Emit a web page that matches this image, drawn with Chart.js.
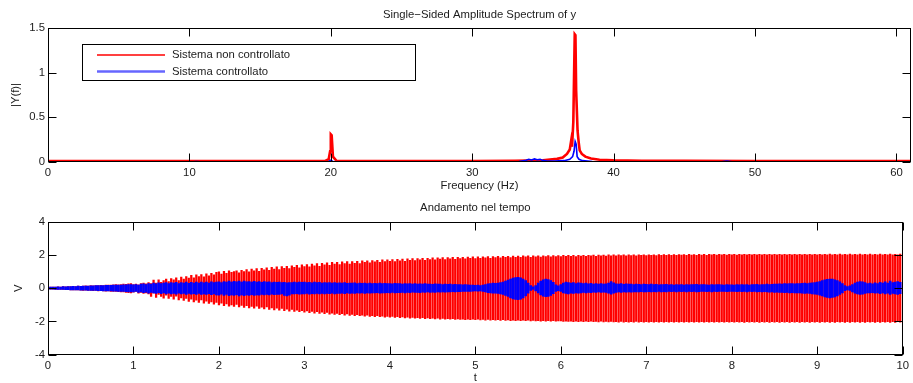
<!DOCTYPE html>
<html>
<head>
<meta charset="utf-8">
<script src="https://cdn.jsdelivr.net/npm/chart.js@4.4.1/dist/chart.umd.min.js"></script>
<style>
  html, body { margin: 0; padding: 0; background: #ffffff; }
  #wrap { position: relative; width: 913px; height: 383px; }
  #wrap canvas { position: absolute; left: 0; top: 0; }
</style>
</head>
<body>
<div id="wrap">
  <canvas id="spec" width="913" height="383"></canvas>
  <canvas id="time" width="913" height="383"></canvas>
</div>
<script>
// ---------- Spectrum |Y(f)| ----------
const specXTicks = [0, 10, 20, 30, 40, 50, 60];
const specYTicks = [0, 0.5, 1, 1.5];
const specFreqMax = 61.03;

// uncontrolled system
const redFreq = [0, 5, 10, 15, 19.6, 19.85, 19.95, 20.0, 20.06, 20.15, 20.4, 25, 30, 33, 35, 36, 36.4, 36.7, 36.9, 37.0, 37.06, 37.15, 37.25, 37.3, 37.35, 37.45, 37.53, 37.6, 37.75, 38.0, 38.4, 39.0, 40, 42, 45, 50, 55, 61.03];
const redAmp  = [0.012, 0.012, 0.012, 0.012, 0.013, 0.03, 0.12, 0.31, 0.3, 0.06, 0.014, 0.012, 0.012, 0.014, 0.02, 0.035, 0.05, 0.09, 0.14, 0.24, 0.17, 0.45, 1.43, 1.42, 0.8, 0.35, 0.22, 0.13, 0.09, 0.06, 0.04, 0.025, 0.018, 0.014, 0.013, 0.012, 0.012, 0.012];

// controlled system
const blueFreq = [0, 10, 10.5, 11, 19.8, 20.0, 20.2, 25, 33.3, 33.8, 34.0, 34.2, 34.4, 34.6, 34.8, 35.0, 35.3, 35.8, 36.5, 36.9, 37.1, 37.2, 37.28, 37.35, 37.42, 37.55, 37.8, 38.5, 40, 47.5, 48, 48.5, 55, 61.03];
const blueAmp  = [0, 0, 0.006, 0, 0, 0.02, 0, 0, 0.004, 0.02, 0.03, 0.022, 0.034, 0.025, 0.03, 0.018, 0.012, 0.01, 0.015, 0.03, 0.06, 0.12, 0.23, 0.2, 0.06, 0.03, 0.015, 0.006, 0, 0, 0.01, 0, 0, 0];

// ---------- Time response V(t) ----------
const timeXTicks = [0, 1, 2, 3, 4, 5, 6, 7, 8, 9, 10];
const timeYTicks = [-4, -2, 0, 2, 4];
const stripeStep = 1 / 34;   // seconds between plotted oscillation swings

// uncontrolled: upper and lower swing of each oscillation (one row per second)
const redHi = [
  0.05,0.06,0.07,0.06,0.08,0.07,0.09,0.08,0.10,0.09,0.11,0.10,0.12,0.11,0.13,0.14,0.13,0.15,0.14,0.16,0.15,0.17,0.16,0.18,0.19,0.18,0.20,0.21,0.20,0.22,0.24,0.23,0.26,0.28,
  0.22,0.25,0.20,0.28,0.30,0.26,0.33,0.28,0.48,0.30,0.50,0.35,0.45,0.55,0.40,0.58,0.50,0.62,0.45,0.66,0.55,0.70,0.60,0.78,0.62,0.80,0.70,0.82,0.68,0.86,0.75,0.90,0.80,0.95,
  0.98,0.85,1.02,0.90,1.05,0.95,1.00,1.05,0.92,1.08,1.00,1.12,0.98,1.15,1.05,1.18,1.02,1.20,1.10,1.22,1.08,1.25,1.15,1.28,1.12,1.30,1.20,1.32,1.18,1.35,1.25,1.38,1.22,1.40,
  1.30,1.42,1.28,1.45,1.35,1.48,1.32,1.50,1.40,1.52,1.38,1.55,1.45,1.55,1.42,1.58,1.48,1.60,1.45,1.60,1.50,1.62,1.48,1.64,1.55,1.65,1.52,1.66,1.58,1.68,1.55,1.70,1.60,1.70,
  1.62,1.72,1.60,1.74,1.65,1.75,1.62,1.76,1.68,1.78,1.66,1.78,1.70,1.80,1.68,1.80,1.72,1.82,1.70,1.82,1.75,1.84,1.72,1.84,1.76,1.85,1.74,1.86,1.78,1.86,1.76,1.87,1.80,1.88,
  1.78,1.88,1.80,1.89,1.82,1.90,1.80,1.90,1.84,1.91,1.82,1.92,1.85,1.92,1.84,1.93,1.86,1.93,1.85,1.94,1.88,1.94,1.86,1.95,1.88,1.95,1.87,1.95,1.90,1.96,1.88,1.96,1.90,1.96,
  1.90,1.97,1.91,1.97,1.92,1.97,1.90,1.98,1.93,1.98,1.92,1.98,1.94,1.99,1.92,1.99,1.95,1.99,1.93,2.00,1.95,2.00,1.94,2.00,1.96,2.00,1.95,2.00,1.96,2.01,1.95,2.01,1.97,2.01,
  1.96,2.01,1.97,2.01,1.96,2.02,1.98,2.02,1.97,2.02,1.98,2.02,1.97,2.02,1.99,2.02,1.98,2.03,1.99,2.02,1.98,2.03,1.99,2.03,1.98,2.03,2.00,2.03,1.99,2.03,2.00,2.03,1.99,2.03,
  2.00,2.03,1.99,2.03,2.00,2.04,2.00,2.03,2.01,2.04,2.00,2.04,2.01,2.04,2.00,2.04,2.01,2.04,2.00,2.04,2.01,2.04,2.01,2.04,2.00,2.04,2.01,2.04,2.01,2.04,2.00,2.04,2.01,2.04,
  2.01,2.04,2.00,2.04,2.01,2.05,2.00,2.04,2.01,2.05,2.01,2.04,2.00,2.05,2.01,2.04,2.01,2.05,2.00,2.04,2.01,2.05,2.01,2.04,2.00,2.05,2.01,2.04,2.01,2.05,2.00,2.04,2.01,2.05
];
const redLo = [
  -0.05,-0.06,-0.06,-0.07,-0.07,-0.08,-0.08,-0.09,-0.09,-0.10,-0.10,-0.11,-0.11,-0.12,-0.13,-0.12,-0.14,-0.13,-0.15,-0.14,-0.16,-0.15,-0.17,-0.18,-0.17,-0.19,-0.20,-0.19,-0.21,-0.23,-0.22,-0.25,-0.27,-0.29,
  -0.24,-0.20,-0.30,-0.26,-0.32,-0.28,-0.35,-0.50,-0.30,-0.55,-0.38,-0.50,-0.60,-0.42,-0.62,-0.50,-0.66,-0.48,-0.70,-0.58,-0.74,-0.62,-0.80,-0.66,-0.82,-0.72,-0.86,-0.70,-0.90,-0.78,-0.92,-0.82,-0.96,-0.86,
  -1.00,-0.90,-1.05,-0.95,-1.08,-1.00,-1.10,-0.98,-1.12,-1.04,-1.15,-1.05,-1.18,-1.10,-1.20,-1.08,-1.22,-1.14,-1.25,-1.12,-1.28,-1.18,-1.30,-1.20,-1.32,-1.22,-1.35,-1.26,-1.38,-1.28,-1.40,-1.32,-1.42,-1.35,
  -1.45,-1.36,-1.48,-1.40,-1.50,-1.42,-1.52,-1.45,-1.54,-1.46,-1.56,-1.50,-1.58,-1.52,-1.60,-1.54,-1.62,-1.55,-1.64,-1.58,-1.65,-1.60,-1.66,-1.62,-1.68,-1.63,-1.70,-1.65,-1.71,-1.66,-1.72,-1.68,-1.74,-1.70,
  -1.75,-1.70,-1.76,-1.72,-1.78,-1.73,-1.79,-1.74,-1.80,-1.76,-1.81,-1.77,-1.82,-1.78,-1.83,-1.79,-1.84,-1.80,-1.85,-1.81,-1.86,-1.82,-1.86,-1.83,-1.87,-1.84,-1.88,-1.85,-1.88,-1.86,-1.89,-1.86,-1.90,-1.87,
  -1.90,-1.87,-1.91,-1.88,-1.92,-1.88,-1.92,-1.89,-1.93,-1.90,-1.94,-1.90,-1.94,-1.91,-1.95,-1.92,-1.95,-1.92,-1.96,-1.93,-1.96,-1.93,-1.97,-1.94,-1.97,-1.95,-1.98,-1.95,-1.98,-1.96,-1.99,-1.96,-1.99,-1.97,
  -1.97,-2.00,-1.98,-2.00,-1.98,-2.01,-1.99,-2.01,-1.98,-2.02,-1.99,-2.02,-1.99,-2.02,-2.00,-2.03,-1.99,-2.03,-2.00,-2.03,-2.00,-2.03,-2.01,-2.04,-2.00,-2.04,-2.01,-2.04,-2.01,-2.04,-2.00,-2.04,-2.01,-2.05,
  -2.01,-2.04,-2.02,-2.05,-2.01,-2.04,-2.02,-2.05,-2.01,-2.05,-2.02,-2.04,-2.01,-2.05,-2.02,-2.05,-2.01,-2.04,-2.02,-2.05,-2.02,-2.05,-2.01,-2.04,-2.02,-2.05,-2.02,-2.05,-2.01,-2.05,-2.02,-2.04,-2.02,-2.05,
  -2.02,-2.05,-2.01,-2.05,-2.02,-2.06,-2.02,-2.05,-2.01,-2.05,-2.02,-2.06,-2.02,-2.05,-2.01,-2.06,-2.02,-2.05,-2.02,-2.06,-2.01,-2.05,-2.02,-2.06,-2.02,-2.05,-2.01,-2.06,-2.02,-2.05,-2.02,-2.06,-2.01,-2.05,
  -2.02,-2.06,-2.02,-2.05,-2.01,-2.06,-2.02,-2.06,-2.02,-2.05,-2.01,-2.06,-2.02,-2.06,-2.02,-2.05,-2.01,-2.06,-2.02,-2.06,-2.02,-2.05,-2.01,-2.06,-2.02,-2.06,-2.02,-2.05,-2.01,-2.06,-2.02,-2.06,-2.02,-2.05
];

// controlled: upper and lower swing of each oscillation (one row per second)
const blueHi = [
  0.05,0.06,0.07,0.06,0.08,0.07,0.09,0.08,0.10,0.09,0.11,0.10,0.12,0.11,0.13,0.13,0.13,0.14,0.14,0.15,0.15,0.16,0.15,0.17,0.17,0.17,0.18,0.19,0.18,0.19,0.20,0.20,0.21,0.22,
  0.20,0.22,0.18,0.25,0.26,0.22,0.28,0.24,0.30,0.26,0.32,0.28,0.30,0.34,0.27,0.33,0.30,0.35,0.28,0.34,0.30,0.36,0.29,0.35,0.31,0.36,0.30,0.37,0.32,0.36,0.31,0.38,0.33,0.37,
  0.38,0.34,0.40,0.36,0.42,0.37,0.41,0.38,0.43,0.36,0.42,0.38,0.40,0.37,0.41,0.36,0.40,0.35,0.39,0.36,0.38,0.34,0.37,0.35,0.36,0.33,0.35,0.32,0.34,0.33,0.36,0.34,0.37,0.35,
  0.36,0.33,0.35,0.32,0.36,0.34,0.35,0.31,0.34,0.32,0.33,0.30,0.34,0.31,0.32,0.30,0.33,0.29,0.31,0.30,0.32,0.28,0.30,0.29,0.31,0.28,0.30,0.27,0.29,0.28,0.30,0.27,0.29,0.28,
  0.28,0.26,0.29,0.27,0.28,0.25,0.27,0.26,0.28,0.25,0.27,0.24,0.26,0.25,0.27,0.24,0.25,0.23,0.26,0.24,0.25,0.22,0.24,0.23,0.24,0.22,0.23,0.21,0.22,0.20,0.21,0.20,0.19,0.18,
  0.17,0.18,0.16,0.18,0.22,0.26,0.28,0.30,0.29,0.31,0.33,0.36,0.42,0.48,0.55,0.60,0.63,0.65,0.62,0.55,0.45,0.30,0.15,0.08,0.15,0.30,0.42,0.50,0.54,0.52,0.45,0.35,0.20,0.14,
  0.22,0.30,0.36,0.33,0.30,0.34,0.28,0.32,0.30,0.27,0.31,0.26,0.29,0.25,0.28,0.24,0.27,0.25,0.26,0.30,0.40,0.32,0.26,0.24,0.27,0.23,0.26,0.24,0.25,0.22,0.24,0.23,0.22,0.24,
  0.23,0.21,0.24,0.22,0.23,0.20,0.22,0.21,0.23,0.20,0.22,0.19,0.21,0.20,0.22,0.19,0.21,0.20,0.22,0.21,0.23,0.20,0.22,0.21,0.20,0.19,0.21,0.20,0.22,0.21,0.20,0.19,0.21,0.20,
  0.20,0.19,0.21,0.20,0.22,0.20,0.21,0.19,0.22,0.21,0.23,0.20,0.22,0.21,0.24,0.22,0.23,0.25,0.24,0.26,0.25,0.27,0.26,0.28,0.27,0.26,0.28,0.27,0.29,0.30,0.28,0.30,0.32,0.34,
  0.36,0.40,0.45,0.50,0.53,0.55,0.54,0.50,0.45,0.38,0.28,0.15,0.10,0.14,0.22,0.30,0.36,0.40,0.38,0.33,0.28,0.30,0.26,0.32,0.28,0.35,0.30,0.38,0.30,0.42,0.33,0.36,0.40,0.35
];
const blueLo = [
  -0.05,-0.06,-0.06,-0.07,-0.07,-0.08,-0.08,-0.09,-0.09,-0.10,-0.10,-0.11,-0.11,-0.12,-0.12,-0.12,-0.13,-0.13,-0.14,-0.14,-0.15,-0.15,-0.16,-0.16,-0.16,-0.17,-0.18,-0.18,-0.19,-0.19,-0.20,-0.21,-0.22,-0.22,
  -0.22,-0.19,-0.25,-0.22,-0.27,-0.24,-0.30,-0.26,-0.28,-0.32,-0.27,-0.33,-0.29,-0.35,-0.30,-0.34,-0.31,-0.36,-0.30,-0.35,-0.32,-0.37,-0.31,-0.36,-0.33,-0.38,-0.32,-0.37,-0.34,-0.38,-0.33,-0.39,-0.35,-0.40,
  -0.42,-0.36,-0.44,-0.38,-0.45,-0.40,-0.44,-0.39,-0.46,-0.40,-0.45,-0.41,-0.44,-0.39,-0.43,-0.40,-0.42,-0.38,-0.41,-0.37,-0.40,-0.36,-0.39,-0.37,-0.38,-0.35,-0.44,-0.46,-0.42,-0.34,-0.35,-0.33,-0.36,-0.34,
  -0.35,-0.32,-0.36,-0.33,-0.35,-0.31,-0.34,-0.32,-0.35,-0.31,-0.33,-0.30,-0.34,-0.31,-0.32,-0.30,-0.33,-0.29,-0.32,-0.30,-0.31,-0.29,-0.30,-0.28,-0.31,-0.29,-0.30,-0.28,-0.29,-0.27,-0.30,-0.28,-0.29,-0.27,
  -0.28,-0.26,-0.28,-0.27,-0.27,-0.25,-0.28,-0.26,-0.27,-0.24,-0.26,-0.25,-0.27,-0.24,-0.25,-0.23,-0.26,-0.24,-0.25,-0.23,-0.24,-0.22,-0.24,-0.23,-0.23,-0.21,-0.22,-0.21,-0.21,-0.20,-0.20,-0.19,-0.19,-0.18,
  -0.16,-0.18,-0.17,-0.19,-0.22,-0.27,-0.29,-0.30,-0.30,-0.32,-0.34,-0.38,-0.44,-0.50,-0.58,-0.64,-0.68,-0.69,-0.66,-0.58,-0.46,-0.30,-0.14,-0.08,-0.16,-0.28,-0.40,-0.48,-0.51,-0.50,-0.44,-0.33,-0.20,-0.15,
  -0.20,-0.28,-0.32,-0.34,-0.30,-0.31,-0.28,-0.30,-0.29,-0.26,-0.28,-0.25,-0.27,-0.24,-0.26,-0.23,-0.25,-0.24,-0.26,-0.30,-0.36,-0.30,-0.25,-0.23,-0.25,-0.22,-0.24,-0.23,-0.24,-0.22,-0.23,-0.22,-0.21,-0.23,
  -0.22,-0.21,-0.23,-0.21,-0.22,-0.20,-0.23,-0.21,-0.22,-0.20,-0.21,-0.19,-0.22,-0.20,-0.21,-0.19,-0.22,-0.20,-0.21,-0.20,-0.22,-0.21,-0.20,-0.19,-0.21,-0.20,-0.22,-0.20,-0.21,-0.20,-0.19,-0.20,-0.21,-0.20,
  -0.20,-0.19,-0.21,-0.20,-0.21,-0.19,-0.22,-0.20,-0.21,-0.20,-0.22,-0.21,-0.23,-0.21,-0.22,-0.24,-0.23,-0.25,-0.24,-0.26,-0.25,-0.27,-0.26,-0.28,-0.27,-0.28,-0.29,-0.28,-0.30,-0.31,-0.30,-0.32,-0.34,-0.36,
  -0.38,-0.42,-0.47,-0.52,-0.56,-0.58,-0.56,-0.52,-0.46,-0.38,-0.28,-0.15,-0.10,-0.14,-0.22,-0.30,-0.35,-0.38,-0.36,-0.32,-0.28,-0.29,-0.27,-0.30,-0.28,-0.33,-0.29,-0.35,-0.30,-0.38,-0.32,-0.34,-0.37,-0.33
];

const seriesNames = ['Sistema non controllato', 'Sistema controllato'];
const RED = '#ff0000';
const BLUE = '#0000ff';
const TEXT = '#1c1c1c';
const FONT = { family: "'Liberation Sans', Arial, Helvetica, sans-serif", size: 11.3, weight: 'normal' };

Chart.defaults.font.family = FONT.family;
Chart.defaults.font.size = FONT.size;
Chart.defaults.color = TEXT;

// Boxed axes with inward tick marks on all four sides
const axisBox = {
  id: 'axisBox',
  afterDatasetsDraw(chart, args, opts) {
    const { ctx, chartArea: a, scales } = chart;
    const len = opts.tickLen || 8;
    const L = Math.round(a.left) + 0.5, R = Math.round(a.right) - 0.5;
    const T = Math.round(a.top) + 0.5, B = Math.round(a.bottom) - 0.5;
    ctx.save();
    ctx.strokeStyle = '#000';
    ctx.lineWidth = 1;
    ctx.beginPath();
    for (const t of scales.x.ticks) {
      const px = Math.round(scales.x.getPixelForValue(t.value)) + 0.5;
      ctx.moveTo(px, B); ctx.lineTo(px, B - len);
      ctx.moveTo(px, T); ctx.lineTo(px, T + len);
    }
    for (const t of scales.y.ticks) {
      const py = Math.round(scales.y.getPixelForValue(t.value)) + 0.5;
      ctx.moveTo(L, py); ctx.lineTo(L + len, py);
      ctx.moveTo(R, py); ctx.lineTo(R - len, py);
    }
    ctx.stroke();
    ctx.strokeRect(L, T, R - L, B - T);
    ctx.restore();
  }
};

// Boxed legend placed inside the spectrum axes
const specLegend = {
  id: 'specLegend',
  afterDraw(chart) {
    const { ctx } = chart;
    const ds = chart.data.datasets;
    ctx.save();
    ctx.fillStyle = '#ffffff';
    ctx.fillRect(82.5, 44.5, 333, 36);
    ctx.strokeStyle = '#000';
    ctx.lineWidth = 1;
    ctx.strokeRect(82.5, 44.5, 333, 36);
    const rows = [
      { d: ds[0], y: 55, w: 1.4 },
      { d: ds[1], y: 71.5, w: 2.6 }
    ];
    ctx.font = `${FONT.size}px ${FONT.family}`;
    ctx.textBaseline = 'middle';
    ctx.textAlign = 'left';
    for (const r of rows) {
      ctx.strokeStyle = r.d.borderColor;
      ctx.globalAlpha = r.d === ds[1] ? 0.6 : 1;
      ctx.lineWidth = r.w;
      ctx.beginPath();
      ctx.moveTo(97, r.y); ctx.lineTo(165, r.y);
      ctx.stroke();
      ctx.globalAlpha = 1;
      ctx.fillStyle = TEXT;
      ctx.fillText(r.d.label, 172, r.y);
    }
    ctx.restore();
  }
};

const useTicks = arr => scale => { scale.ticks = arr.map(v => ({ value: v })); };
const plainScale = extra => Object.assign({
  grid: { display: false, drawTicks: false },
  border: { display: false },
}, extra);

// ---------- spectrum chart ----------
new Chart(document.getElementById('spec'), {
  type: 'line',
  data: {
    datasets: [
      { label: seriesNames[0], data: redFreq.map((f, i) => ({ x: f, y: redAmp[i] })),
        borderColor: RED, borderWidth: 2.6, pointRadius: 0, tension: 0, order: 1 },
      { label: seriesNames[1], data: blueFreq.map((f, i) => ({ x: f, y: blueAmp[i] })),
        borderColor: BLUE, borderWidth: 1.6, pointRadius: 0, tension: 0, order: 0, clip: 0 }
    ]
  },
  options: {
    responsive: false, animation: false, events: [],
    layout: { padding: { left: 0, right: 2, top: 0, bottom: 190 } },
    plugins: {
      legend: { display: false }, tooltip: { enabled: false },
      title: { display: true, fullSize: false, text: 'Single\u2212Sided Amplitude Spectrum of y', color: TEXT,
               font: FONT, padding: { top: 8.2, bottom: 6.2 } },
      axisBox: { tickLen: 8 }
    },
    scales: {
      x: plainScale({
        type: 'linear', min: 0, max: specFreqMax,
        afterBuildTicks: useTicks(specXTicks),
        afterFit: s => { s.height = 31; },
        ticks: { padding: 4, maxRotation: 0, autoSkip: false, color: TEXT, font: FONT, callback: v => String(v) },
        title: { display: true, text: 'Frequency (Hz)', color: TEXT, font: FONT, padding: { top: 0, bottom: 0.7 } }
      }),
      y: plainScale({
        min: 0, max: 1.5,
        afterBuildTicks: useTicks(specYTicks),
        afterFit: s => { s.width = 48; },
        ticks: { padding: 3, color: TEXT, font: FONT, callback: v => String(v) },
        title: { display: true, text: '|Y(f)|', color: TEXT, font: FONT, padding: { top: 9.5, bottom: 0 } }
      })
    }
  },
  plugins: [axisBox, specLegend]
});

// ---------- time response chart ----------
const stripes = (hi, lo) => hi.map((h, i) => ({ x: i * stripeStep, y: [lo[i], h] }));

new Chart(document.getElementById('time'), {
  type: 'bar',
  data: {
    datasets: [
      { label: seriesNames[0], data: stripes(redHi, redLo), backgroundColor: RED,
        borderWidth: 0, barThickness: 1.6, grouped: false, order: 1 },
      { label: seriesNames[1], data: stripes(blueHi, blueLo), backgroundColor: BLUE,
        borderWidth: 0, barThickness: 2.0, grouped: false, order: 0 }
    ]
  },
  options: {
    responsive: false, animation: false, events: [],
    layout: { padding: { left: 0, right: 2, top: 190, bottom: 0 } },
    plugins: {
      legend: { display: false }, tooltip: { enabled: false },
      title: { display: true, fullSize: false, text: 'Andamento nel tempo', color: TEXT,
               font: FONT, padding: { top: 11.2, bottom: 6.9 } },
      axisBox: { tickLen: 8 }
    },
    scales: {
      x: plainScale({
        type: 'linear', min: 0, max: 10, offset: false,
        afterBuildTicks: useTicks(timeXTicks),
        afterFit: s => { s.height = 28.3; },
        ticks: { padding: 4, maxRotation: 0, autoSkip: false, color: TEXT, font: FONT, callback: v => String(v) },
        title: { display: true, text: 't', color: TEXT, font: FONT, padding: { top: 0, bottom: -1.8 } }
      }),
      y: plainScale({
        min: -4, max: 4,
        afterBuildTicks: useTicks(timeYTicks),
        afterFit: s => { s.width = 48; },
        ticks: { padding: 3, color: TEXT, font: FONT, callback: v => String(v) },
        title: { display: true, text: 'V', color: TEXT, font: FONT, padding: { top: 12.5, bottom: 0 } }
      })
    }
  },
  plugins: [axisBox]
});
</script>
</body>
</html>
